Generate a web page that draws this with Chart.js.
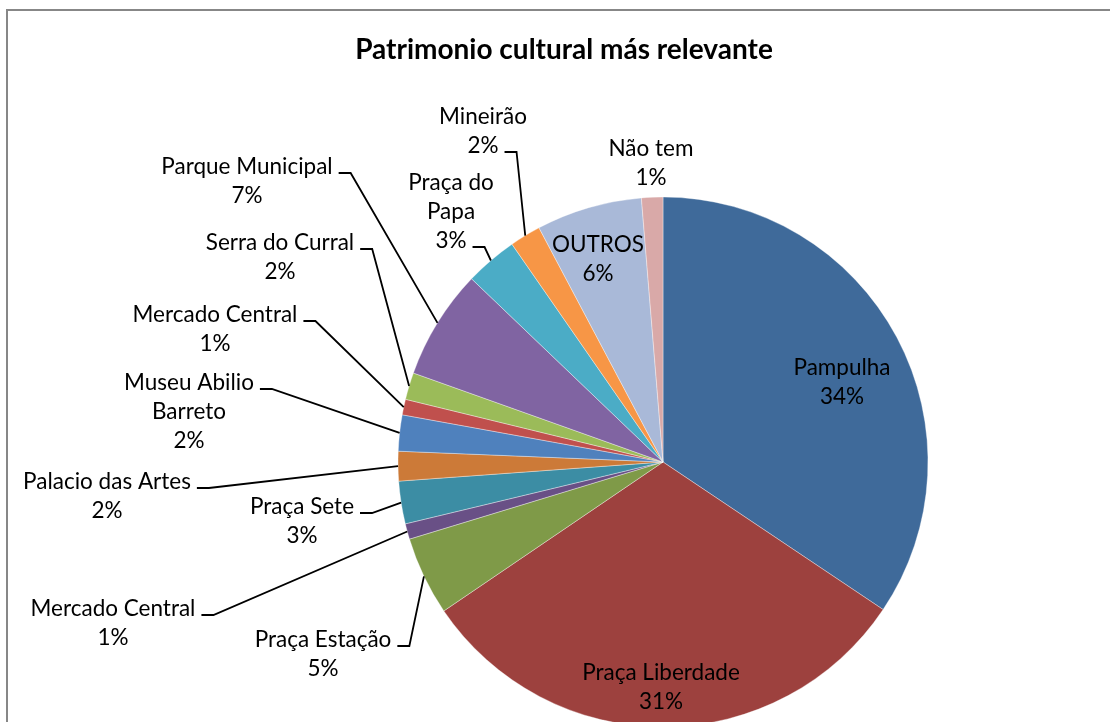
<!DOCTYPE html>
<html>
<head>
<meta charset="utf-8">
<title>Patrimonio cultural</title>
<script src="https://cdn.jsdelivr.net/npm/chart.js@4.4.1/dist/chart.umd.min.js"></script>
<style>
  html, body { margin: 0; padding: 0; background: #fff; overflow: hidden; }
  #wrap { position: relative; width: 1110px; height: 722px; overflow: hidden; }
  #frame { position: absolute; left: 6px; top: 9px; width: 1200px; height: 800px; border: 2px solid #878787; }
  #chart { position: absolute; left: 0; top: 0; }
</style>
</head>
<body>
<div id="wrap">
  <div id="frame"></div>
  <canvas id="chart" width="1110" height="760"></canvas>
</div>
<script>
const chartTitle = "Patrimonio cultural más relevante";

const categories = [
  "Pampulha",
  "Praça Liberdade",
  "Praça Estação",
  "Mercado Central",
  "Praça Sete",
  "Palacio das Artes",
  ["Museu Abilio", "Barreto"],
  "Mercado Central",
  "Serra do Curral",
  "Parque Municipal",
  ["Praça do", "Papa"],
  "Mineirão",
  "OUTROS",
  "Não tem",
];

// share of answers, in percent
const shares = [34.4, 31.1, 4.8, 0.95, 2.6, 1.8, 2.2, 0.95, 1.65, 6.7, 3.2, 1.9, 6.45, 1.3];

const sliceColors = [
  "#3f6a9a", "#9d413e", "#7f9a48", "#695086", "#3c8da4", "#cc7a38", "#4f81bd",
  "#c0504d", "#9bbb59", "#8064a2", "#4bacc6", "#f79646", "#a9b9d8", "#d9a9a8",
];

// where each label sits (center of its first line) and which line the leader leaves from
const labelSpots = [
  { x: 842, y: 368, lead: null },
  { x: 661, y: 673, lead: null },
  { x: 323, y: 640, lead: 0 },
  { x: 113, y: 609, lead: 0 },
  { x: 302, y: 507, lead: 0 },
  { x: 107, y: 482, lead: 0 },
  { x: 189, y: 383, lead: 0 },
  { x: 215, y: 315, lead: 0 },
  { x: 280, y: 243, lead: 0 },
  { x: 247, y: 167, lead: 0 },
  { x: 451, y: 183, lead: 2 },
  { x: 483, y: 117, lead: 1 },
  { x: 598, y: 245, lead: null },
  { x: 651, y: 149, lead: null },
];

const labelFont = "22.5px Lato";
const lineGap = 29;

const sliceLabels = {
  id: "sliceLabels",
  afterDatasetsDraw(chart) {
    const ctx = chart.ctx;
    const meta = chart.getDatasetMeta(0);
    const total = shares.reduce((a, b) => a + b, 0);
    ctx.save();
    ctx.font = labelFont;
    ctx.fillStyle = "#000";
    ctx.strokeStyle = "#000";
    ctx.lineWidth = 1.8;
    ctx.textAlign = "center";
    ctx.textBaseline = "middle";
    meta.data.forEach((arc, i) => {
      const spot = labelSpots[i];
      const name = categories[i];
      const lines = (Array.isArray(name) ? name : [name]).concat(Math.round((shares[i] / total) * 100) + "%");
      lines.forEach((t, k) => ctx.fillText(t, spot.x, spot.y + k * lineGap));
      if (spot.lead === null) return;
      const { x, y, startAngle, endAngle, outerRadius } = arc.getProps(
        ["x", "y", "startAngle", "endAngle", "outerRadius"], true);
      const mid = (startAngle + endAngle) / 2;
      const ax = x + outerRadius * Math.cos(mid);
      const ay = y + outerRadius * Math.sin(mid);
      const w = ctx.measureText(lines[spot.lead]).width;
      const sx = spot.x + w / 2 + 6;
      const sy = spot.y + spot.lead * lineGap + 6;
      ctx.beginPath();
      ctx.moveTo(sx, sy);
      ctx.lineTo(sx + 12, sy);
      ctx.lineTo(ax, ay);
      ctx.stroke();
    });
    ctx.font = "bold 28px Lato";
    ctx.fillText(chartTitle, 564, 50);
    ctx.restore();
  },
};

new Chart(document.getElementById("chart"), {
  type: "pie",
  data: {
    labels: categories,
    datasets: [
      {
        data: shares,
        backgroundColor: sliceColors,
        borderColor: "rgba(255,255,255,0.45)",
        borderWidth: 0.8,
        radius: 265,
        offset: 0,
        hoverOffset: 0,
      },
    ],
  },
  options: {
    responsive: false,
    animation: false,
    layout: { padding: { left: 398, right: 182, top: 197, bottom: 33 } },
    plugins: {
      legend: { display: false },
      title: { display: false },
      tooltip: { enabled: false },
    },
  },
  plugins: [sliceLabels],
});
</script>
</body>
</html>
